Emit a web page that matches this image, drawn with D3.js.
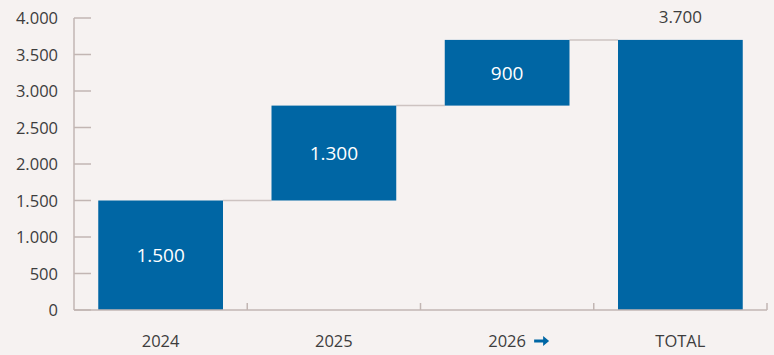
<!DOCTYPE html>
<html><head><meta charset="utf-8">
<script src="https://cdn.jsdelivr.net/npm/d3@7"></script>
<style>
html,body{margin:0;padding:0;background:#f6f2f1;}
svg{display:block;font-family:"Open Sans",sans-serif;}
</style></head>
<body><svg id="c" width="774" height="355"></svg>
<script>
const categories = ["2024", "2025", "2026", "TOTAL"];
const deltas = [1500, 1300, 900, 3700];
const isTotal = [false, false, false, true];
const labels = ["1.500", "1.300", "900", "3.700"];
const yTicks = [0, 500, 1000, 1500, 2000, 2500, 3000, 3500, 4000];
const yTickLabels = ["0", "500", "1.000", "1.500", "2.000", "2.500", "3.000", "3.500", "4.000"];

const svg = d3.select("#c");
const x = d3.scaleBand().domain(categories).range([74, 767]).padding(0);
const y = d3.scaleLinear().domain([0, 4000]).range([310, 18]);
const axisCol = "#c2b6b3", blue = "#0066a4", txt = "#3d3d3d";

// compute waterfall
let run = 0;
const bars = categories.map((c, i) => {
  let b0, b1;
  if (isTotal[i]) { b0 = 0; b1 = deltas[i]; }
  else { b0 = run; b1 = run + deltas[i]; run = b1; }
  return {c, b0, b1, label: labels[i], total: isTotal[i]};
});
const bw = x.bandwidth() * 0.72;
const bx = c => x(c) + (x.bandwidth() - bw) / 2;

// connectors
for (let i = 0; i < bars.length - 1; i++) {
  svg.append("line")
    .attr("x1", bx(bars[i].c) + bw).attr("x2", bx(bars[i+1].c))
    .attr("y1", y(bars[i].b1)).attr("y2", y(bars[i].b1))
    .attr("stroke", "#cdc3c1").attr("stroke-width", 1.5);
}

// bars
svg.selectAll("rect.bar").data(bars).enter().append("rect")
  .attr("x", d => bx(d.c)).attr("width", bw)
  .attr("y", d => y(d.b1)).attr("height", d => y(d.b0) - y(d.b1))
  .attr("fill", blue);

// labels
svg.selectAll("text.bl").data(bars).enter().append("text")
  .attr("x", d => bx(d.c) + bw / 2)
  .attr("y", d => d.total ? y(d.b1) - 17 : (y(d.b0) + y(d.b1)) / 2 + 7)
  .attr("text-anchor", "middle")
  .attr("font-size", d => d.total ? 17 : 19)
  .attr("fill", d => d.total ? txt : "#ffffff")
  .text(d => d.label);

// y axis
svg.append("line").attr("x1", 74).attr("x2", 74).attr("y1", y(4000)).attr("y2", y(0))
  .attr("stroke", axisCol).attr("stroke-width", 1.5);
yTicks.forEach((t, i) => {
  svg.append("line").attr("x1", 74).attr("x2", 91).attr("y1", y(t)).attr("y2", y(t))
    .attr("stroke", axisCol).attr("stroke-width", 1.5);
  svg.append("text").attr("x", 58).attr("y", y(t) + 6).attr("text-anchor", "end")
    .attr("font-size", 16.5).attr("fill", txt).text(yTickLabels[i]);
});

// x axis
svg.append("line").attr("x1", 74).attr("x2", 767).attr("y1", 310).attr("y2", 310)
  .attr("stroke", axisCol).attr("stroke-width", 1.5);
categories.forEach(c => {
  const xe = x(c) + x.bandwidth();
  svg.append("line").attr("x1", xe).attr("x2", xe).attr("y1", 303).attr("y2", 310)
    .attr("stroke", axisCol).attr("stroke-width", 1.5);
  svg.append("text").attr("x", x(c) + x.bandwidth() / 2).attr("y", 347)
    .attr("text-anchor", "middle").attr("font-size", 16.5).attr("fill", txt).text(c);
});
// arrow after 2026
const ax = x("2026") + x.bandwidth() / 2 + 27;
svg.append("path")
  .attr("d", `M${ax},${339.5} h9 v-3.5 l6,5 l-6,5 v-3.5 h-9 z`)
  .attr("fill", blue);
</script></body></html>
